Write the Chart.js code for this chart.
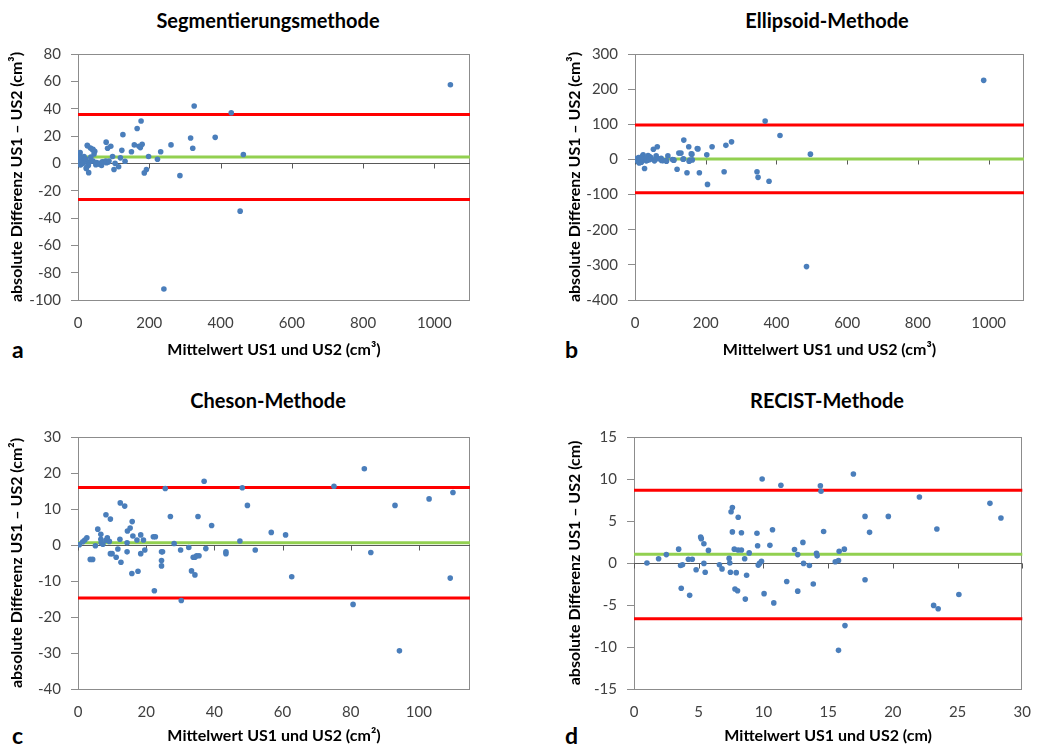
<!DOCTYPE html>
<html><head><meta charset="utf-8">
<script src="https://cdn.jsdelivr.net/npm/chart.js@4/dist/chart.umd.min.js"></script>
<style>
body{margin:0;background:#fff;width:1045px;height:749px;position:relative;overflow:hidden;font-family:Lato,sans-serif}
canvas{position:absolute}
.t{position:absolute;font-weight:bold;font-size:20px;transform:translateX(-50%);white-space:nowrap;color:#000;line-height:24px}
.l{position:absolute;font-weight:bold;font-size:23px;color:#000;line-height:26px}
</style></head><body>
<div class="t" style="left:268px;top:8px">Segmentierungsmethode</div>
<div class="t" style="left:827px;top:8px">Ellipsoid-Methode</div>
<div class="t" style="left:268px;top:388px">Cheson-Methode</div>
<div class="t" style="left:827px;top:388px">RECIST-Methode</div>
<div class="l" style="left:12px;top:336px">a</div>
<div class="l" style="left:565px;top:336px">b</div>
<div class="l" style="left:12px;top:722px">c</div>
<div class="l" style="left:565px;top:722px">d</div>
<canvas id="ca" width="522" height="372" style="left:0;top:0"></canvas>
<canvas id="cb" width="523" height="372" style="left:522px;top:0"></canvas>
<canvas id="cc" width="522" height="371" style="left:0;top:378px"></canvas>
<canvas id="cd" width="523" height="371" style="left:522px;top:378px"></canvas>
<script>
// ---- Segmentierungsmethode ----
const segX = [1045,326,430,177,166,126,316,385,79,158,180,171,175,92,83,261,322,123,150,232,464,198,97,119,223,132,104,114,101,192,186,286,455,241,
  6,26,35,42,47,45,5,9,17,36,22,0.5,14,33,42,52,61,71,80,66,0,7,14,28,23,30,50,85,59,41,27,3,21,29,24,68,78,87];
const segY = [57.5,42,37,31,25.5,21,18.5,19,15.5,13.5,14,12.5,11.5,12.5,11,13.5,11,9.5,8.5,8.5,6.5,5,5,4,3,1.5,0,-2.5,-4.5,-4.5,-7,-9,-35,-92,
  7.8,13.2,11.2,10.2,8.8,6.8,4.9,3.9,4.9,4.6,2.9,1.7,1,1.2,1.7,0.5,-0.7,1,0.5,-1.5,0,-1.2,0,0,-3.7,-6.8,-1,1,0,10,12.7,4.5,3.4,-1.5,-3.1,1.2,1.7,1.7];
const segMean = 4.7, segUpper = 35.8, segLower = -26.4;
const segXTicks = [0,200,400,600,800,1000];
const segYTicks = [-100,-80,-60,-40,-20,0,20,40,60,80];

// ---- Ellipsoid-Methode ----
const ellX = [986,368,410,138,273,257,218,152,176,63,52,496,203,124,130,161,93,137,155,153,106,110,89,75,119,147,182,252,345,348,379,205,485,27,
  23,37,41,74,13,4,8,18,32,46,79,88,109,136,159,162,178,5,10,15,20,12,25,35,45,55,60,30,40,18,8,65];
const ellY = [225,109,68,55,50,40,36,36,31,36,29,15,13,18,18,15,10,1.5,-2,-5,0,-2,-5,-3,-28,-38,-38,-35,-35,-51,-62,-71,-305,-26,
  13,11,8,3.4,3.4,1.4,-6,-8,-4,1.4,-3.4,-3.4,-1.4,0.5,15.7,-1.4,30,2,5,-3,8,-10,0,-2,5,-4,10,3,-1,3,-2,2];
const ellMean = 1.5, ellUpper = 98, ellLower = -95;
const ellXTicks = [0,200,400,600,800,1000];
const ellYTicks = [-400,-300,-200,-100,0,100,200,300];

// ---- Cheson-Methode ----
const chX = [84,37,75.1,48.2,25.6,110,103,12.4,13.7,49.7,93,8.2,9.5,27.1,35.2,15.9,39.2,15.3,14.5,5.8,56.7,60.9,6.7,16.1,18.4,22.1,22.7,17.3,19.2,12.3,8.6,6.7,8.2,9.2,47.5,2.6,2,1.4,0.4,14.4,6.8,7.3,28.2,5.1,32.5,30.1,37.5,52,19.6,11.7,14.4,24.5,24.8,43.4,43.4,85.9,18.4,10,9.5,34.8,35.5,34.3,33.8,11.2,24.5,3.6,4.3,12.6,24.5,17.6,33.3,15.8,34.3,62.7,109.2,22.4,30.3,80.7,94.3];
const chY = [21.2,17.7,16.3,15.9,15.7,14.6,12.8,11.7,10.8,11,11,8.4,7.2,7.9,7.9,6.5,5.4,4.7,3.9,4.4,3.5,2.8,3,2.5,2.8,2.3,2.3,1.4,1.4,1.6,2,1.6,1.3,1,1.1,2,1.4,0.9,0.1,0.6,0.6,0.2,0.4,-0.2,-0.7,-1.4,-1,-1.4,-1.4,-1.1,-1.9,-1.9,-1.9,-1.9,-2.4,-2.1,-2.4,-2.4,-2.4,-3,-3,-3.4,-3.4,-3.4,-4.3,-4,-4,-4.8,-5.8,-7.3,-7.2,-7.9,-8.3,-8.8,-9.2,-12.7,-15.4,-16.5,-29.4];
const chMean = 0.65, chUpper = 16, chLower = -14.7;
const chXTicks = [0,20,40,60,80,100];
const chYTicks = [-40,-30,-20,-10,0,10,20,30];

// ---- RECIST-Methode ----
const reX = [1.0,1.9,2.5,3.45,3.6,3.75,3.65,4.2,4.5,4.3,4.8,5.15,5.2,5.4,5.4,5.5,5.75,6.6,6.8,7.35,7.4,7.45,7.5,7.6,7.6,7.75,7.8,8.0,7.9,8.05,8.3,8.05,8.3,8.55,8.6,8.7,8.9,9.5,9.55,9.6,9.7,9.85,9.9,10.05,10.5,10.7,10.8,11.35,11.8,12.4,12.65,12.65,13.05,13.1,13.55,13.85,14.1,14.15,14.4,14.45,14.65,15.55,15.8,15.8,15.85,16.25,16.3,16.95,17.85,17.85,18.2,19.65,22.05,23.15,23.4,23.5,25.1,27.5,28.35];
const reY = [0.0,0.5,1.0,1.65,-0.3,-0.2,-3.0,0.45,0.45,-3.85,-0.8,3.1,2.9,2.3,-0.05,-1.1,1.5,-0.2,-0.7,0.55,0.0,-1.1,6.1,6.6,3.7,1.65,-3.1,-3.3,-1.15,1.55,1.55,5.45,3.6,0.5,-4.3,-1.45,1.2,3.55,2.05,-0.25,-0.05,0.2,10.0,-3.65,2.1,3.95,-4.75,9.25,-2.2,1.6,1.0,-3.35,2.45,-0.05,-0.3,-2.5,1.15,0.85,9.2,8.55,3.75,0.15,-10.4,0.3,1.4,1.65,-7.45,10.6,5.55,-2.0,3.65,5.55,7.85,-5.05,4.05,-5.45,-3.75,7.1,5.35];
const reMean = 1.05, reUpper = 8.65, reLower = -6.65;
const reXTicks = [0,5,10,15,20,25,30];
const reYTicks = [-15,-10,-5,0,5,10,15];

const FONT = 'Lato, sans-serif';
const framePlugin = {
  id: 'frame',
  beforeDatasetsDraw(chart) {
    const {ctx, chartArea: a, scales: {x, y}} = chart;
    ctx.save();
    ctx.lineWidth = 1;
    ctx.strokeStyle = '#8c8c8c';
    ctx.strokeRect(Math.round(a.left) + 0.5, Math.round(a.top) + 0.5, Math.round(a.right - a.left) - 1, Math.round(a.bottom - a.top));
    const y0 = Math.round(y.getPixelForValue(0)) + 0.5;
    ctx.strokeStyle = '#595959';
    ctx.beginPath();
    ctx.moveTo(a.left, y0); ctx.lineTo(a.right, y0);
    x.ticks.forEach(t => {
      const px = Math.round(x.getPixelForValue(t.value)) + 0.5;
      ctx.moveTo(px, y0); ctx.lineTo(px, y0 + 5);
    });
    ctx.stroke();
    ctx.restore();
  }
};

function makeChart(id, p) {
  const pts = p.xs.map((v, i) => ({x: v, y: p.ys[i]}));
  const hline = (v, color) => ({
    data: [{x: p.xmin, y: v}, {x: p.xmax, y: v}],
    showLine: true, borderColor: color, borderWidth: 3, pointRadius: 0, order: 2, clip: false
  });
  const lh = 16 * 1.2;
  const padLeft = p.yTitleCX - lh / 2;
  const canvas = document.getElementById(id);
  const W = canvas.width, H = canvas.height;
  new Chart(canvas, {
    type: 'scatter',
    data: {
      datasets: [
        {data: pts, backgroundColor: '#4a7ebb', borderColor: '#4a7ebb', borderWidth: 0, pointRadius: 2.8, order: 1},
        hline(p.upper, '#ff0000'),
        hline(p.lower, '#ff0000'),
        hline(p.mean, '#92d050')
      ]
    },
    options: {
      responsive: false, animation: false, devicePixelRatio: 1,
      layout: {padding: {left: padLeft, top: p.area.t, right: W - p.area.r, bottom: 0}},
      plugins: {legend: {display: false}, tooltip: {enabled: false}, title: {display: false}},
      scales: {
        x: {
          type: 'linear', position: 'bottom', min: p.xmin, max: p.xmax,
          afterBuildTicks: s => { s.ticks = p.xticks.map(v => ({value: v})); },
          afterFit: s => { s.height = H - p.area.b; },
          grid: {display: false, drawTicks: false},
          border: {display: false},
          ticks: {padding: 14, color: '#404040', font: {family: FONT, size: 15}, maxRotation: 0,
                  callback: v => String(v)},
          title: {display: true, text: p.xTitle, color: '#000', font: {family: FONT, size: 16, weight: 'bold'},
                  padding: {top: 0, bottom: H - p.xTitleCY - lh / 2}}
        },
        y: {
          type: 'linear', position: 'left', min: p.ymin, max: p.ymax,
          afterBuildTicks: s => { s.ticks = p.yticks.map(v => ({value: v})); },
          afterFit: s => { s.width = p.area.l - padLeft; },
          grid: {display: true, drawOnChartArea: false, drawTicks: true, tickLength: 7, color: '#8c8c8c'},
          border: {display: true, color: '#8c8c8c'},
          ticks: {padding: 10, color: '#404040', font: {family: FONT, size: 15}, callback: v => String(v)},
          title: {display: true, text: p.yTitle, color: '#000', font: {family: FONT, size: 16, weight: 'bold'},
                  padding: {top: 0, bottom: 0}}
        }
      }
    },
    plugins: [framePlugin]
  });
}

makeChart('ca', {xs: segX, ys: segY, mean: segMean, upper: segUpper, lower: segLower,
  xmin: 0, xmax: 1100, ymin: -100, ymax: 80, xticks: segXTicks, yticks: segYTicks,
  area: {l: 78, t: 54, r: 470, b: 300}, yTitleCX: 17, xTitleCY: 350,
  xTitle: 'Mittelwert US1 und US2 (cm³)', yTitle: 'absolute Differenz US1 – US2 (cm³)'});
makeChart('cb', {xs: ellX, ys: ellY, mean: ellMean, upper: ellUpper, lower: ellLower,
  xmin: 0, xmax: 1100, ymin: -400, ymax: 300, xticks: ellXTicks, yticks: ellYTicks,
  area: {l: 113, t: 54, r: 502, b: 300}, yTitleCX: 53, xTitleCY: 350,
  xTitle: 'Mittelwert US1 und US2 (cm³)', yTitle: 'absolute Differenz US1 – US2 (cm³)'});
makeChart('cc', {xs: chX, ys: chY, mean: chMean, upper: chUpper, lower: chLower,
  xmin: 0, xmax: 115, ymin: -40, ymax: 30, xticks: chXTicks, yticks: chYTicks,
  area: {l: 78, t: 59, r: 470, b: 311}, yTitleCX: 17, xTitleCY: 358,
  xTitle: 'Mittelwert US1 und US2 (cm²)', yTitle: 'absolute Differenz US1 – US2 (cm²)'});
makeChart('cd', {xs: reX, ys: reY, mean: reMean, upper: reUpper, lower: reLower,
  xmin: 0, xmax: 30, ymin: -15, ymax: 15, xticks: reXTicks, yticks: reYTicks,
  area: {l: 112, t: 59, r: 509, b: 311}, yTitleCX: 53, xTitleCY: 358,
  xTitle: 'Mittelwert US1 und US2 (cm)', yTitle: 'absolute Differenz US1 – US2 (cm)'});
</script>
</body></html>
